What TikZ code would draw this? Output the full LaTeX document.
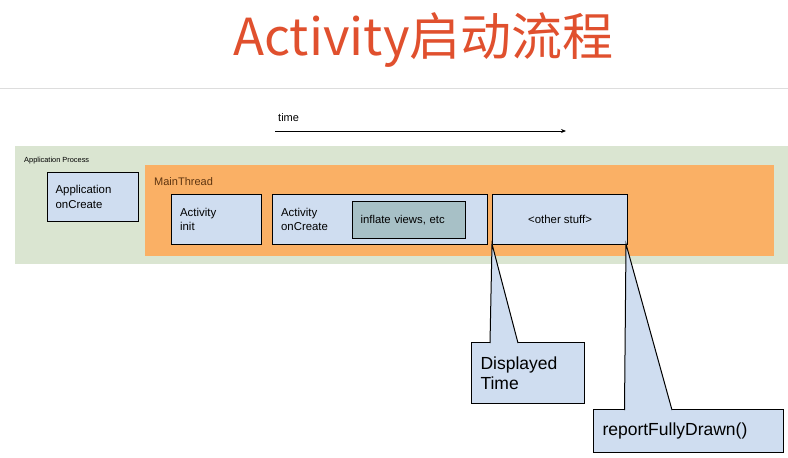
\documentclass[tikz,border=0pt]{standalone}
\usepackage{fontspec}
\usetikzlibrary{arrows.meta}
\setmainfont{Liberation Sans}
\newfontfamily\cjk{Noto Sans CJK SC}
\definecolor{procgreen}{HTML}{DAE5D1}
\definecolor{threadorange}{HTML}{FAB065}
\definecolor{boxblue}{HTML}{CFDDF0}
\definecolor{inflategrey}{HTML}{A7C0C6}
\definecolor{titlered}{HTML}{E0502E}
\definecolor{threadbrown}{HTML}{5E3510}
\definecolor{sepgrey}{HTML}{DDDDDD}
\tikzset{
  stagebox/.style={draw=black, line width=1.2pt, fill=boxblue, rectangle, anchor=north west,
    inner xsep=8.5pt, inner ysep=0pt, align=left,
    font=\fontsize{11.4}{14.5}\selectfont},
  calloutbox/.style={draw=black, line width=1pt, fill=boxblue, rectangle, anchor=north west,
    inner xsep=9pt, inner ysep=0pt, align=left,
    font=\fontsize{17.5}{20}\selectfont},
  pointer/.style={draw=black, line width=1pt, fill=boxblue, line join=miter},
}
\begin{document}
\begin{tikzpicture}[x=1pt,y=-1pt]
\useasboundingbox (0,0) rectangle (788,458);
% title
\node[anchor=base, inner sep=0pt] (title) at (423.5,55) {\fontsize{51}{56}\selectfont\cjk\color{titlered}Activity启动流程};
% separator
\coordinate (sepL) at (0,88);
\coordinate (sepR) at (788,88);
\draw[sepgrey, line width=1pt] (sepL) -- (sepR);
% time arrow
\node[anchor=base west, font=\fontsize{11}{13}\selectfont, inner sep=0pt] (time) at (278,121) {time};
\coordinate (tA) at (275,131);
\coordinate (tB) at (566,131);
\draw[line width=1pt, -{Stealth[length=5pt,width=4pt]}] (tA) -- (tB);
% application process
\fill[procgreen] (15,146) rectangle (788,264);
\node[anchor=base west, inner sep=0pt, font=\fontsize{7.4}{9}\selectfont] (apl) at (24,162) {Application Process};
% main thread
\fill[threadorange] (145,165) rectangle (774,256);
\node[anchor=base west, inner sep=0pt, text=threadbrown, font=\fontsize{11}{13}\selectfont] (mtl) at (154,185) {MainThread};
% boxes
\node[stagebox, minimum width=91pt, minimum height=49pt, text width=74pt] (appc) at (46.5,172) {Application\\onCreate};
\node[stagebox, minimum width=90pt, minimum height=50pt, text width=73pt] (ainit) at (171,194) {Activity\\init};
\node[stagebox, minimum width=215pt, minimum height=50pt, text width=198pt] (acreate) at (272,194) {Activity\\onCreate};
\node[draw=black, line width=1.2pt, fill=inflategrey, rectangle, anchor=north west, minimum width=113pt, minimum height=37pt, inner xsep=8pt, text width=97pt, align=left, font=\fontsize{11.3}{14}\selectfont] (inflate) at (352,201) {inflate views, etc};
\node[draw=black, line width=1.2pt, fill=boxblue, rectangle, anchor=north west, minimum width=135pt, minimum height=50pt, font=\fontsize{11.4}{14}\selectfont] (other) at (492,194) {<other stuff>};
% callouts
\coordinate (dtip) at (492,244);
\coordinate (dL) at (490,343);
\coordinate (dR) at (518,343);
\coordinate (rtip) at (626,244);
\coordinate (rL) at (624.5,410);
\coordinate (rR) at (672,410);
\node[calloutbox, minimum width=113pt, minimum height=61pt, text width=95pt] (disp) at (471,342) {Displayed\\Time};
\node[calloutbox, minimum width=190pt, minimum height=43pt, text width=172pt] (rfd) at (593,409) {reportFullyDrawn()};
\fill[boxblue] (dL) -- (dtip) -- (dR) -- cycle;
\draw[pointer] (dL) -- (dtip) -- (dR);
\fill[boxblue] (rL) -- (rtip) -- (rR) -- cycle;
\draw[pointer] (rL) -- (rtip) -- (rR);
\end{tikzpicture}
\end{document}
